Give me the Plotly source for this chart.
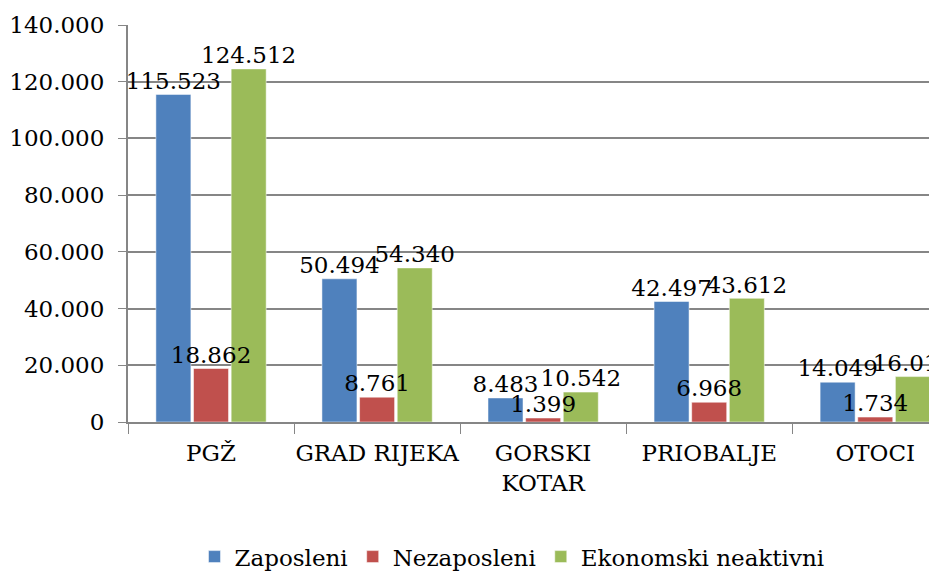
import plotly.graph_objects as go

categories = ["PGŽ", "GRAD RIJEKA", "GORSKI<br>KOTAR", "PRIOBALJE", "OTOCI"]
zaposleni = [115523, 50494, 8483, 42497, 14049]
nezaposleni = [18862, 8761, 1399, 6968, 1734]
neaktivni = [124512, 54340, 10542, 43612, 16010]
y_ticks = [0, 20000, 40000, 60000, 80000, 100000, 120000, 140000]

FONT = "DejaVu Serif"
SIZE = 23

series = [
    ("Zaposleni", zaposleni, "#4F81BD"),
    ("Nezaposleni", nezaposleni, "#C0504D"),
    ("Ekonomski neaktivni", neaktivni, "#9BBB59"),
]

fig = go.Figure()
for name, vals, color in series:
    fig.add_trace(go.Bar(
        name=name,
        x=categories,
        y=vals,
        offsetgroup=name,
        marker=dict(color=color),
    ))

# data labels drawn after all bars so they sit on top, like the original
for name, vals, color in series:
    fig.add_trace(go.Scatter(
        x=categories,
        y=vals,
        offsetgroup=name,
        mode="text",
        text=[f"{v:,}".replace(",", ".") for v in vals],
        textposition="top center",
        textfont=dict(family=FONT, size=SIZE, color="black"),
        cliponaxis=True,
        showlegend=False,
        hoverinfo="skip",
    ))

# the page body adds an 8px offset, so margins are 8px smaller than measured
fig.update_layout(
    template="plotly_white",
    separators=",.",
    width=937,
    height=573,
    barmode="group",
    bargap=0.32,
    bargroupgap=0.07,
    scattermode="group",
    scattergap=0.32,
    font=dict(family=FONT, size=SIZE, color="black"),
    margin=dict(l=120, r=0, t=17, b=159, autoexpand=False),
    plot_bgcolor="white",
    paper_bgcolor="white",
    legend=dict(
        orientation="h",
        x=0.47,
        xanchor="center",
        y=-0.285,
        yanchor="top",
        font=dict(family=FONT, size=SIZE),
        tracegroupgap=0,
    ),
)
fig.update_xaxes(
    range=[-0.5, 4.42],
    automargin=False,
    tickangle=0,
    showline=True,
    linecolor="#868686",
    linewidth=2,
    ticks="outside",
    tickson="boundaries",
    ticklen=10,
    tickcolor="#868686",
    showgrid=False,
    ticklabelstandoff=9,
    tickfont=dict(family=FONT, size=SIZE),
)
fig.update_yaxes(
    range=[0, 140000],
    automargin=False,
    tickvals=y_ticks,
    tickformat=",d",
    showline=True,
    linecolor="#868686",
    linewidth=2,
    ticks="outside",
    ticklen=8,
    tickcolor="#868686",
    gridcolor="#868686",
    gridwidth=1.5,
    zeroline=False,
    ticklabelstandoff=9,
    tickfont=dict(family=FONT, size=SIZE),
)

fig.write_html("out.html")
